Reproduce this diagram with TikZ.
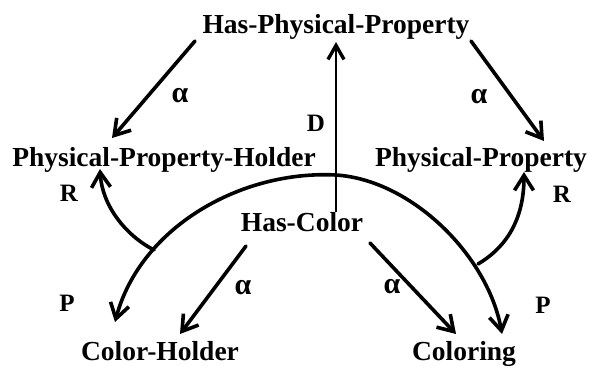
\documentclass[tikz,border=0pt]{standalone}
\usepackage{fontspec}
\setmainfont{Liberation Serif}
\usetikzlibrary{arrows.meta}
\tikzset{
  concept/.style={font=\fontsize{27.5}{30}\selectfont\bfseries, inner sep=0pt, anchor=base},
  tag/.style={font=\fontsize{25}{27}\selectfont\bfseries, inner sep=0pt},
  greek/.style={font=\fontsize{30}{32}\selectfont\bfseries, inner sep=0pt},
  arr/.style={line width=3.6pt, line cap=round, -{Straight Barb[length=15pt,width=19pt,line width=3.6pt]}},
  thin arr/.style={line width=2.4pt, -{Straight Barb[length=14pt,width=16pt,line width=3.4pt]}},
}
\begin{document}
\begin{tikzpicture}[x=1pt,y=-1pt]
\useasboundingbox (0,0) rectangle (589,365);
% nodes
\node[concept] (hpp) at (336,33) {Has-Physical-Property};
\node[concept] (pph) at (164,166) {Physical-Property-Holder};
\node[concept] (pp)  at (481,166) {Physical-Property};
\node[concept] (hc)  at (302,231) {Has-Color};
\node[concept] (ch)  at (160,360) {Color-Holder};
\node[concept] (col) at (464,360) {Coloring};
% connector end points
\coordinate (a1s) at (195,41);  \coordinate (a1e) at (112,138);
\coordinate (a2s) at (471,41);  \coordinate (a2e) at (544,141);
\coordinate (ds)  at (336,212); \coordinate (de)  at (336,42);
\coordinate (top) at (336,175);
\coordinate (lfoot) at (115,322); \coordinate (rfoot) at (502,334);
\coordinate (lr) at (154,250); \coordinate (rr) at (478,264);
\coordinate (lre) at (100,169); \coordinate (rre) at (524,172);
\coordinate (b1s) at (246,246); \coordinate (b1e) at (180,334);
\coordinate (b2s) at (370,243); \coordinate (b2e) at (456,334);
% connectors
\draw[arr] (a1s) -- (a1e);
\draw[arr] (a2s) -- (a2e);
\draw[thin arr] (ds) -- (de);
\draw[arr] (top) .. controls (240,170) and (140,228) .. (lfoot);
\draw[arr] (top) .. controls (412,180) and (488,256) .. (rfoot);
\draw[arr] (lr) .. controls (125,235) and (102,205) .. (lre);
\draw[arr] (rr) .. controls (510,245) and (524,215) .. (rre);
\draw[arr] (b1s) -- (b1e);
\draw[arr] (b2s) -- (b2e);
% labels
\node[greek] (la1) at (180,96) {α};
\node[greek] (la2) at (479,97) {α};
\node[tag] (ld)  at (316,123) {D};
\node[tag] (lrl) at (69,193) {R};
\node[tag] (lrr) at (562,194) {R};
\node[tag] (lpl) at (67,303) {P};
\node[tag] (lpr) at (543,305) {P};
\node[greek] (la3) at (243,288) {α};
\node[greek] (la4) at (392,287) {α};
\end{tikzpicture}
\end{document}
